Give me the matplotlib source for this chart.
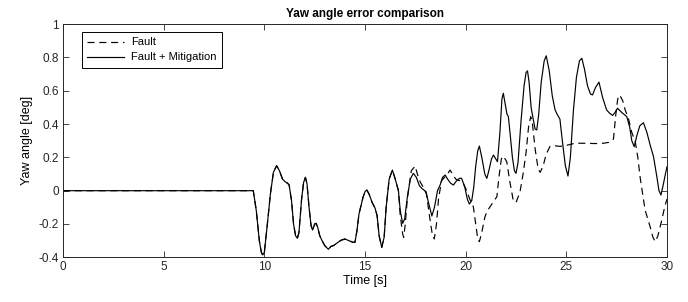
import matplotlib
matplotlib.use("Agg")
import matplotlib.pyplot as plt

# -----------------------------------------------------------------------------
# Data
# -----------------------------------------------------------------------------
# common part of both runs up to ~16.6 s
t_common = [0, 9.45, 9.6, 9.75, 9.85, 9.92, 10.0, 10.15, 10.3, 10.45, 10.61, 10.75,
            10.9, 11.03, 11.15, 11.23, 11.35, 11.45, 11.55, 11.64, 11.72, 11.85,
            11.95, 12.04, 12.12, 12.22, 12.32, 12.4, 12.5, 12.57, 12.65, 12.75,
            12.85, 13.0, 13.18, 13.3, 13.43, 13.6, 13.8, 14.0, 14.2, 14.4, 14.5,
            14.6, 14.7, 14.79, 14.9, 15.0, 15.09, 15.2, 15.35, 15.5, 15.6, 15.7,
            15.83, 15.95, 16.05, 16.2, 16.36, 16.5, 16.66]
y_common = [0, 0, -0.12, -0.3, -0.37, -0.386, -0.37, -0.2, -0.02, 0.11, 0.15, 0.12,
            0.07, 0.054, 0.045, 0.035, -0.06, -0.2, -0.27, -0.286, -0.25, -0.05,
            0.05, 0.08, 0.04, -0.1, -0.21, -0.236, -0.2, -0.196, -0.22, -0.27,
            -0.296, -0.33, -0.352, -0.335, -0.33, -0.315, -0.298, -0.29, -0.3, -0.31, -0.31,
            -0.24, -0.14, -0.096, -0.04, -0.005, 0.004, -0.02, -0.07, -0.105, -0.15, -0.27,
            -0.34, -0.28, -0.1, 0.07, 0.124, 0.07, 0.0]

t_mitig = [16.75, 16.87, 16.97, 17.1, 17.25, 17.4, 17.55, 17.7, 17.82, 18.03, 18.15,
           18.32, 18.45, 18.6, 18.73, 18.85, 18.98, 19.1, 19.25, 19.39, 19.55, 19.7,
           19.8, 19.9, 19.97, 20.08, 20.18, 20.3, 20.4, 20.5, 20.6, 20.68, 20.8,
           20.95, 21.05, 21.15, 21.28, 21.38, 21.5, 21.58, 21.7, 21.8, 21.87, 21.95,
           22.05, 22.12, 22.2, 22.32, 22.42, 22.5, 22.6, 22.75, 22.9, 23.0, 23.07,
           23.15, 23.25, 23.36, 23.45, 23.53, 23.62, 23.75, 23.9, 24.0, 24.15, 24.3,
           24.44, 24.56, 24.68, 24.8, 24.95, 25.08, 25.2, 25.35, 25.5, 25.65, 25.77,
           25.9, 26.05, 26.2, 26.3, 26.45, 26.62, 26.8, 27.0, 27.15, 27.3, 27.42,
           27.54, 27.75, 28.0, 28.15, 28.25, 28.37, 28.5, 28.65, 28.83, 29.0, 29.15,
           29.33, 29.5, 29.6, 29.7, 29.82, 29.92, 30.0]
y_mitig = [-0.12, -0.196, -0.17, -0.04, 0.07, 0.104, 0.08, 0.03, 0.014, -0.006, -0.07,
           -0.152, -0.1, 0.0, 0.034, 0.08, 0.094, 0.07, 0.045, 0.034, 0.06, 0.075,
           0.074, 0.04, 0.014, -0.05, -0.08, -0.06, 0.02, 0.15, 0.24, 0.268, 0.2,
           0.1, 0.074, 0.12, 0.19, 0.214, 0.19, 0.174, 0.35, 0.55, 0.585, 0.53,
           0.46, 0.445, 0.35, 0.2, 0.12, 0.104, 0.17, 0.42, 0.63, 0.71, 0.72,
           0.65, 0.5, 0.425, 0.37, 0.365, 0.45, 0.65, 0.78, 0.81, 0.72, 0.57,
           0.485, 0.455, 0.43, 0.3, 0.15, 0.088, 0.2, 0.48, 0.68, 0.78, 0.795,
           0.73, 0.63, 0.58, 0.575, 0.62, 0.652, 0.56, 0.485, 0.465, 0.452, 0.47,
           0.495, 0.47, 0.445, 0.38, 0.3, 0.264, 0.33, 0.39, 0.408, 0.35, 0.28,
           0.204, 0.08, 0.0, -0.026, 0.04, 0.1, 0.144]

t_fault = [16.75, 16.87, 16.92, 17.0, 17.1, 17.3, 17.49, 17.6, 17.75, 17.9, 18.05,
           18.2, 18.35, 18.44, 18.55, 18.65, 18.8, 18.95, 19.1, 19.22, 19.35, 19.5,
           19.7, 19.9, 20.05, 20.2, 20.38, 20.5, 20.6, 20.68, 20.8, 20.95, 21.05,
           21.3, 21.55, 21.65, 21.77, 21.87, 22.04, 22.2, 22.35, 22.5, 22.7, 22.85,
           23.0, 23.12, 23.23, 23.3, 23.45, 23.6, 23.7, 23.85, 24.0, 24.19, 24.4,
           24.69, 25.0, 25.43, 25.8, 26.43, 26.84, 27.1, 27.34, 27.45, 27.55, 27.65,
           27.8, 27.92, 28.08, 28.25, 28.42, 28.55, 28.66, 28.91, 29.16, 29.3, 29.42,
           29.55, 29.74, 29.88, 30.0]
y_fault = [-0.15, -0.26, -0.28, -0.2, -0.05, 0.12, 0.148, 0.1, 0.05, 0.02, -0.02,
           -0.15, -0.27, -0.29, -0.2, -0.05, 0.06, 0.08, 0.1, 0.124, 0.1, 0.07,
           0.06, 0.04, 0.0, -0.05, -0.096, -0.2, -0.29, -0.306, -0.25, -0.16, -0.126,
           -0.08, -0.036, 0.08, 0.19, 0.208, 0.174, 0.05, -0.05, -0.072, -0.006, 0.1,
           0.23, 0.38, 0.445, 0.42, 0.25, 0.13, 0.11, 0.15, 0.22, 0.266, 0.27,
           0.266, 0.272, 0.285, 0.285, 0.283, 0.285, 0.29, 0.31, 0.45, 0.55, 0.575,
           0.54, 0.485, 0.435, 0.35, 0.296, 0.2, 0.084, -0.116, -0.216, -0.28, -0.306,
           -0.27, -0.176, -0.1, -0.05]

x_ticks = [0, 5, 10, 15, 20, 25, 30]
y_ticks = [-0.4, -0.2, 0, 0.2, 0.4, 0.6, 0.8, 1]
y_tick_labels = ["-0.4", "-0.2", "0", "0.2", "0.4", "0.6", "0.8", "1"]

# -----------------------------------------------------------------------------
# Plot
# -----------------------------------------------------------------------------
plt.rcParams["font.family"] = ["Liberation Sans", "DejaVu Sans"]

fig = plt.figure(figsize=(6.88, 3.02), dpi=100)
ax = fig.add_axes([0.0916, 0.148, 0.8779, 0.772])

ax.plot(t_common + t_fault, y_common + y_fault, color="black", lw=0.85,
        linestyle=(0, (6, 4)), label="Fault")
ax.plot(t_common + t_mitig, y_common + y_mitig, color="black", lw=0.85,
        label="Fault + Mitigation")

ax.set_xlim(0, 30)
ax.set_ylim(-0.4, 1)
ax.set_xticks(x_ticks)
ax.set_yticks(y_ticks)
ax.set_yticklabels(y_tick_labels)
ax.tick_params(direction="in", top=True, right=True, length=4, width=0.6,
               labelsize=8.5, colors="#262626", pad=3)
for sp in ax.spines.values():
    sp.set_linewidth(0.7)
    sp.set_color("#262626")

ax.set_title("Yaw angle error comparison", fontsize=8.5, fontweight="bold", pad=5)
ax.set_xlabel("Time [s]", fontsize=9, labelpad=1)
ax.set_ylabel("Yaw angle [deg]", fontsize=9, labelpad=4)

leg = ax.legend(loc="upper left", bbox_to_anchor=(0.031, 0.967), borderaxespad=0,
                fontsize=8, fancybox=False, edgecolor="black", framealpha=1,
                handlelength=3.3, borderpad=0.5, labelspacing=0.45,
                handletextpad=0.6)
leg.get_frame().set_linewidth(0.7)

fig.savefig("out.png", dpi=100)
